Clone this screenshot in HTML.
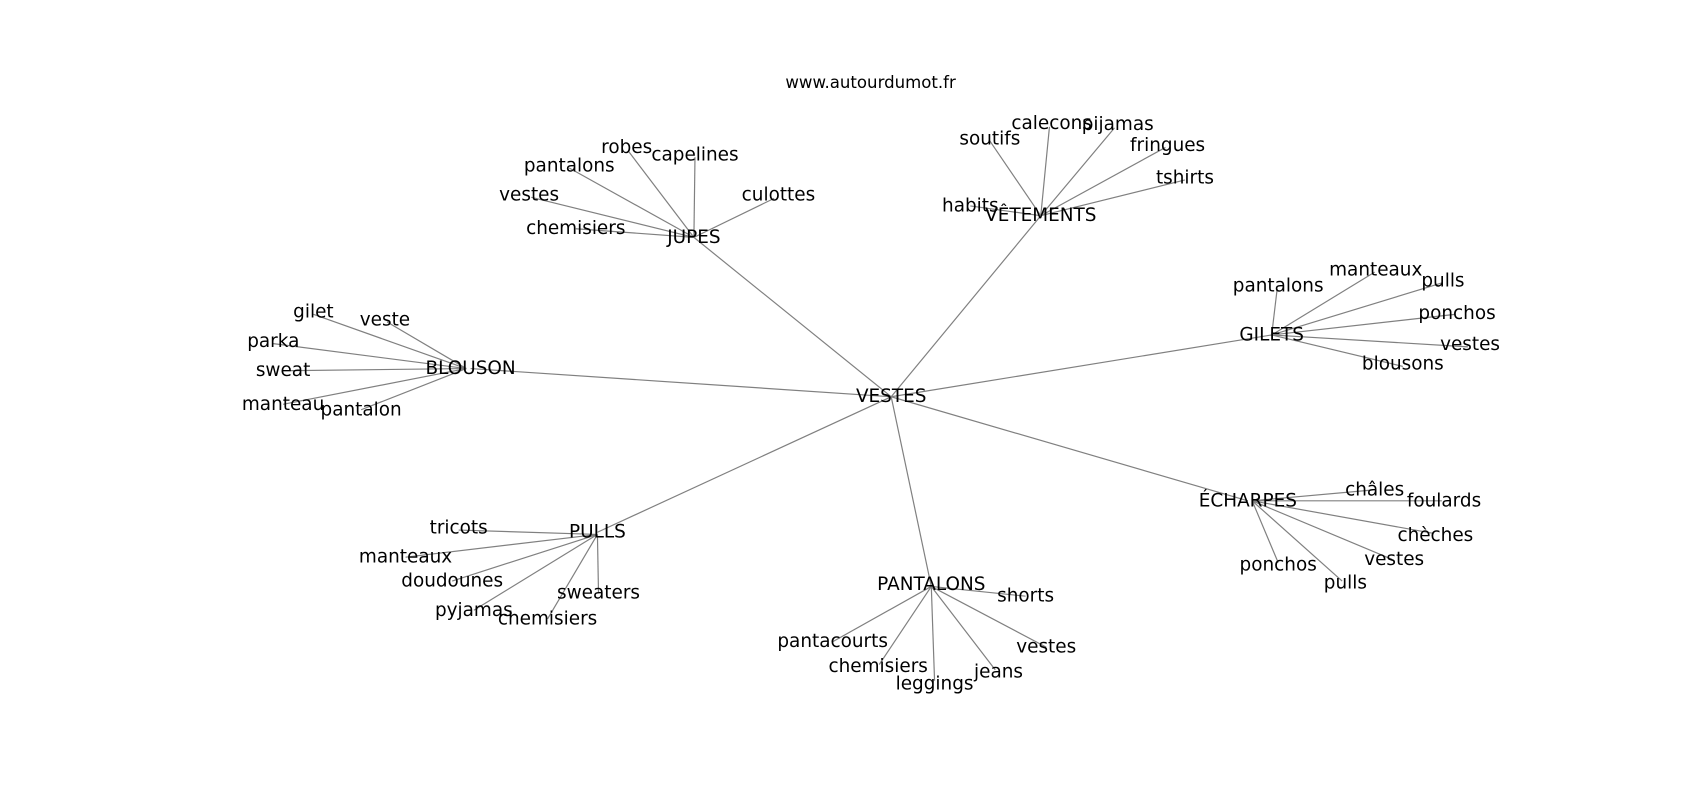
<!DOCTYPE html>
<html><head><meta charset="utf-8"><style>
html,body{margin:0;padding:0;background:#fff;}
svg{display:block;}
text{font-family:"DejaVu Sans","Liberation Sans",sans-serif;fill:#000;}
</style></head><body>
<svg width="1700" height="800" viewBox="0 0 1568 738" xmlns="http://www.w3.org/2000/svg">
<rect width="1568" height="738" fill="#fff"/>
<g stroke="#808080" stroke-width="1.1" fill="none">
<line x1="822" y1="366" x2="640" y2="219"/>
<line x1="822" y1="366" x2="960" y2="199"/>
<line x1="822" y1="366" x2="1173" y2="309"/>
<line x1="822" y1="366" x2="1151" y2="462"/>
<line x1="822" y1="366" x2="859" y2="541"/>
<line x1="822" y1="366" x2="551" y2="491"/>
<line x1="822" y1="366" x2="434" y2="340"/>
<line x1="640" y1="219" x2="580" y2="140"/>
<line x1="640" y1="219" x2="641" y2="145"/>
<line x1="640" y1="219" x2="714" y2="183"/>
<line x1="640" y1="219" x2="525" y2="155"/>
<line x1="640" y1="219" x2="490" y2="182"/>
<line x1="640" y1="219" x2="531" y2="211"/>
<line x1="960" y1="199" x2="913" y2="130"/>
<line x1="960" y1="199" x2="968" y2="117"/>
<line x1="960" y1="199" x2="1028" y2="118"/>
<line x1="960" y1="199" x2="1075" y2="136"/>
<line x1="960" y1="199" x2="1093" y2="166"/>
<line x1="960" y1="199" x2="895" y2="190"/>
<line x1="1173" y1="309" x2="1178" y2="267"/>
<line x1="1173" y1="309" x2="1268" y2="251"/>
<line x1="1173" y1="309" x2="1330" y2="261"/>
<line x1="1173" y1="309" x2="1342" y2="290"/>
<line x1="1173" y1="309" x2="1354" y2="320"/>
<line x1="1173" y1="309" x2="1294" y2="338"/>
<line x1="1155" y1="462" x2="1266" y2="452"/>
<line x1="1155" y1="462" x2="1330" y2="462"/>
<line x1="1155" y1="462" x2="1322" y2="492"/>
<line x1="1155" y1="462" x2="1284" y2="516"/>
<line x1="1155" y1="462" x2="1238" y2="536"/>
<line x1="1155" y1="462" x2="1179" y2="519"/>
<line x1="859" y1="541" x2="946" y2="550"/>
<line x1="859" y1="541" x2="965" y2="597"/>
<line x1="859" y1="541" x2="918" y2="618"/>
<line x1="859" y1="541" x2="862" y2="628"/>
<line x1="859" y1="541" x2="811" y2="613"/>
<line x1="859" y1="541" x2="768" y2="592"/>
<line x1="551" y1="493" x2="423" y2="489"/>
<line x1="551" y1="493" x2="374" y2="514"/>
<line x1="551" y1="493" x2="417" y2="536"/>
<line x1="551" y1="493" x2="437" y2="563"/>
<line x1="551" y1="493" x2="505" y2="571"/>
<line x1="551" y1="493" x2="552" y2="547"/>
<line x1="430" y1="340" x2="289" y2="290"/>
<line x1="430" y1="340" x2="357" y2="297"/>
<line x1="430" y1="340" x2="252" y2="317"/>
<line x1="430" y1="340" x2="261" y2="342"/>
<line x1="430" y1="340" x2="261" y2="373"/>
<line x1="430" y1="340" x2="333" y2="378"/>
</g>
<g font-size="17" text-anchor="middle" dominant-baseline="central">
<text x="803" y="76" font-size="15.3">www.autourdumot.fr</text>
<text x="822" y="366">VESTES</text>
<text x="640" y="219">JUPES</text>
<text x="960" y="199">VÊTEMENTS</text>
<text x="1173" y="309">GILETS</text>
<text x="1151" y="462">ÉCHARPES</text>
<text x="859" y="539">PANTALONS</text>
<text x="551" y="491">PULLS</text>
<text x="434" y="340">BLOUSON</text>
<text x="578" y="136">robes</text>
<text x="641" y="143">capelines</text>
<text x="718" y="180">culottes</text>
<text x="525" y="153">pantalons</text>
<text x="488" y="180">vestes</text>
<text x="531" y="211">chemisiers</text>
<text x="913" y="128">soutifs</text>
<text x="970" y="114">calecons</text>
<text x="1031" y="115">pijamas</text>
<text x="1077" y="134">fringues</text>
<text x="1093" y="164">tshirts</text>
<text x="895" y="190">habits</text>
<text x="1179" y="264">pantalons</text>
<text x="1269" y="249">manteaux</text>
<text x="1331" y="259">pulls</text>
<text x="1344" y="289">ponchos</text>
<text x="1356" y="318">vestes</text>
<text x="1294" y="336">blousons</text>
<text x="1268" y="452">châles</text>
<text x="1332" y="462">foulards</text>
<text x="1324" y="494">chèches</text>
<text x="1286" y="516">vestes</text>
<text x="1241" y="538">pulls</text>
<text x="1179" y="521">ponchos</text>
<text x="946" y="550">shorts</text>
<text x="965" y="597">vestes</text>
<text x="921" y="620">jeans</text>
<text x="862" y="631">leggings</text>
<text x="810" y="615">chemisiers</text>
<text x="768" y="592">pantacourts</text>
<text x="423" y="487">tricots</text>
<text x="374" y="514">manteaux</text>
<text x="417" y="536">doudounes</text>
<text x="437" y="563">pyjamas</text>
<text x="505" y="571">chemisiers</text>
<text x="552" y="547">sweaters</text>
<text x="289" y="288">gilet</text>
<text x="355" y="295">veste</text>
<text x="252" y="315">parka</text>
<text x="261" y="342">sweat</text>
<text x="261" y="373">manteau</text>
<text x="333" y="378">pantalon</text>
</g>
</svg>
</body></html>
